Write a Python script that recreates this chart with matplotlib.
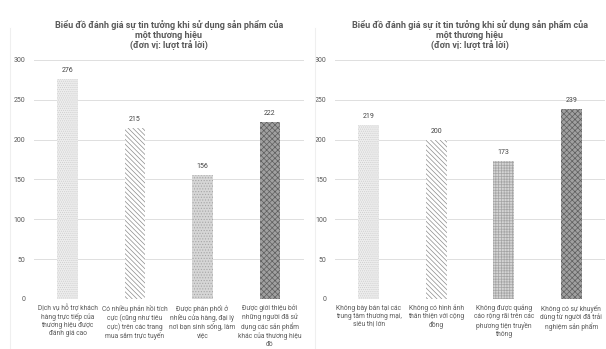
import matplotlib
matplotlib.use("Agg")
import matplotlib.pyplot as plt

plt.rcParams['font.family'] = ['Roboto', 'DejaVu Sans']
plt.rcParams['hatch.linewidth'] = 0.5

# du lieu: muc do tin tuong
tin_nhan = [
    "Dịch vụ hỗ trợ khách\nhàng trực tiếp của\nthương hiệu được\nđánh giá cao",
    "Có nhiều phản hồi tích\ncực (cũng như tiêu\ncực) trên các trang\nmua sắm trực tuyến",
    "Được phân phối ở\nnhiều cửa hàng, đại lý\nnơi bạn sinh sống, làm\nviệc",
    "Được giới thiệu bởi\nnhững người đã sử\ndụng các sản phẩm\nkhác của thương hiệu\nđó",
]
tin_gt = [276, 215, 156, 222]

# du lieu: muc do it tin tuong
it_nhan = [
    "Không bày bán tại các\ntrung tâm thương mại,\nsiêu thị lớn",
    "Không có hình ảnh\nthân thiện với cộng\nđồng",
    "Không được quảng\ncáo rộng rãi trên các\nphương tiện truyền\nthông",
    "Không có sự khuyến\ndùng từ người đã trải\nnghiệm sản phẩm",
]
it_gt = [219, 200, 173, 239]

yticks = [0, 50, 100, 150, 200, 250, 300]

# kieu to cho tung cot (mau nen, mau van, kieu van)
kieu = [
    ("#ededed", "#cfcfcf", "........"),
    ("white", "#8c8c8c", "\\\\\\\\\\\\\\"),
    ("#d6d6d6", "#a6a6a6", "......"),
    ("#a0a0a0", "#5e5e5e", "xxxxxx"),
]
kieu_phai = [
    ("#ededed", "#cfcfcf", "........"),
    ("white", "#8c8c8c", "\\\\\\\\\\\\\\"),
    ("#d4d4d4", "#a4a4a4", "++++++"),
    ("#a0a0a0", "#5e5e5e", "xxxxxx"),
]

chu = "#595959"

fig = plt.figure(figsize=(6.06, 3.49), dpi=100)

def ve(ax, nhan, gt, tieude, kieu_cot):
    x = list(range(len(gt)))
    for i, v in enumerate(gt):
        fc, ec, h = kieu_cot[i]
        ax.bar(x[i], v, width=0.31, color=fc, edgecolor=ec, hatch=h,
               linewidth=0, zorder=3)
        ax.text(x[i], v + 6, str(v), ha='center', va='bottom',
                fontsize=5, color="#444444")
    ax.set_xlim(-0.5, len(gt) - 0.5)
    ax.set_ylim(0, 300)
    ax.set_yticks(yticks)
    ax.set_yticklabels([str(t) for t in yticks], fontsize=5, color=chu)
    ax.set_xticks(x)
    ax.set_xticklabels(nhan, fontsize=4.8, color=chu, linespacing=1.2)
    ax.tick_params(length=0, axis='y', pad=6)
    ax.tick_params(length=0, axis='x', pad=4)
    ax.grid(axis='y', color="#dedede", linewidth=0.7, zorder=0)
    for s in ax.spines.values():
        s.set_visible(False)
    ax.set_title(tieude, fontsize=6.5, fontweight='bold', color=chu,
                 linespacing=1.1, pad=8)

ax1 = fig.add_axes([0.0557, 0.1433, 0.4455, 0.6848])
ve(ax1, tin_nhan, tin_gt,
   "Biểu đồ đánh giá sự tin tưởng khi sử dụng sản phẩm của\nmột thương hiệu\n(đơn vị: lượt trả lời)",
   kieu)

ax2 = fig.add_axes([0.5528, 0.1433, 0.4455, 0.6848])
ve(ax2, it_nhan, it_gt,
   "Biểu đồ đánh giá sự ít tin tưởng khi sử dụng sản phẩm của\nmột thương hiệu\n(đơn vị: lượt trả lời)",
   kieu_phai)

# duong vien mo cua hai khung bieu do
fig.add_artist(plt.Line2D([0.017, 0.017], [0.0, 0.92], color="#efefef", lw=0.8))
fig.add_artist(plt.Line2D([0.519, 0.519], [0.0, 0.92], color="#efefef", lw=0.8))

fig.savefig("out.png", dpi=100)
